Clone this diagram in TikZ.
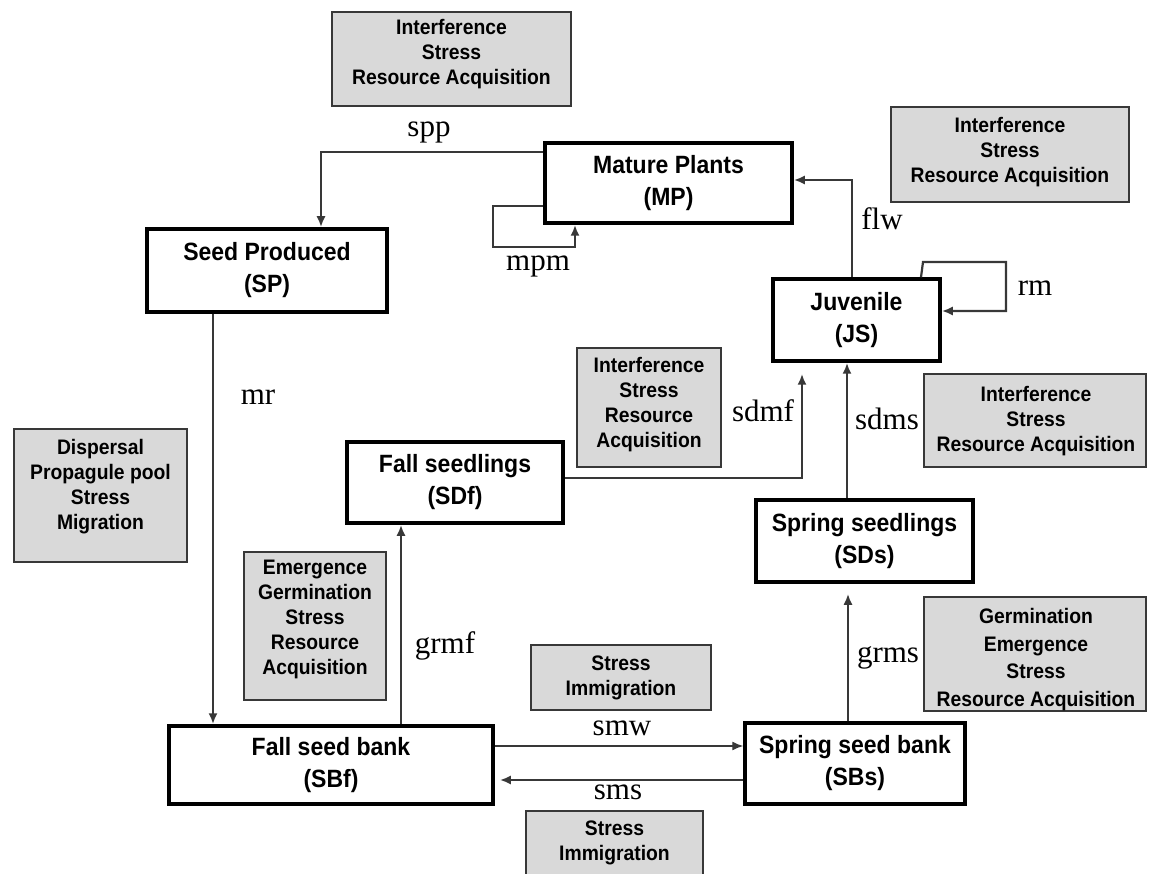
\documentclass[tikz,border=0pt]{standalone}
\usepackage{fontspec}
\setmainfont{Liberation Serif}
\newfontfamily\boxfont[FakeStretch=0.92]{Liberation Sans}
\usetikzlibrary{arrows.meta}
\definecolor{boxgray}{RGB}{217,217,217}
\definecolor{linegray}{RGB}{56,56,56}
\begin{document}
\begin{tikzpicture}[x=1pt,y=-1pt,
 stage/.style={draw=black,line width=3.5pt,fill=white,inner sep=0pt,align=center,font=\boxfont\bfseries\fontsize{25}{32}\selectfont},
 graybox/.style={draw=linegray,line width=2.5pt,fill=boxgray,inner sep=0pt},
 graytext/.style={inner sep=0pt,align=center,font=\boxfont\bfseries\fontsize{21}{25}\selectfont},
 lbl/.style={inner sep=0pt,anchor=base,font=\fontsize{31}{31}\selectfont},
 arr/.style={draw=linegray,line width=2.2pt,-{Latex[length=11pt,width=9pt]}},
 thinarr/.style={arr,line width=1.3pt},
]
\useasboundingbox (0,0) rectangle (1149,874);

% gray factor boxes
\node[graybox,minimum width=239pt,minimum height=94pt] (g1) at (451.5,59) {};
\node[graytext] (g1t) at (451.5,54.3) {Interference\\Stress\\Resource Acquisition};
\node[graybox,minimum width=238pt,minimum height=95pt] (g2) at (1010,154.5) {};
\node[graytext] (g2t) at (1010,152) {Interference\\Stress\\Resource Acquisition};
\node[graybox,minimum width=173pt,minimum height=133pt] (g3) at (100.5,495.5) {};
\node[graytext] (g3t) at (100.5,486.5) {Dispersal\\Propagule pool\\Stress\\Migration};
\node[graybox,minimum width=144pt,minimum height=119pt] (g4) at (649,407.5) {};
\node[graytext] (g4t) at (649,404.5) {Interference\\Stress\\Resource\\Acquisition};
\node[graybox,minimum width=222pt,minimum height=93pt] (g5) at (1035,420.5) {};
\node[graytext] (g5t) at (1036,420.7) {Interference\\Stress\\Resource Acquisition};
\node[graybox,minimum width=222pt,minimum height=114pt] (g6) at (1035,654) {};
\node[graytext,font=\boxfont\bfseries\fontsize{21}{27.5}\selectfont] (g6t) at (1036,659.5) {Germination\\Emergence\\Stress\\Resource Acquisition};
\node[graybox,minimum width=180pt,minimum height=65pt] (g7) at (621,677.5) {};
\node[graytext] (g7t) at (621,677.5) {Stress\\Immigration};
\node[graybox,minimum width=177pt,minimum height=79pt] (g8) at (614.5,850.5) {};
\node[graytext] (g8t) at (614.5,843) {Stress\\Immigration};
\node[graybox,minimum width=142pt,minimum height=148pt] (g9) at (315,626) {};
\node[graytext] (g9t) at (315,619.4) {Emergence\\Germination\\Stress\\Resource\\Acquisition};

% stage boxes
\node[stage,minimum width=247pt,minimum height=80pt] (mp) at (668.5,183) {Mature Plants\\(MP)};
\node[stage,minimum width=240pt,minimum height=83pt] (sp) at (267,270.5) {Seed Produced\\(SP)};
\node[stage,minimum width=167pt,minimum height=82pt] (js) at (856.5,320) {Juvenile\\(JS)};
\node[stage,minimum width=216pt,minimum height=81pt] (sdf) at (455,482.5) {Fall seedlings\\(SDf)};
\node[stage,minimum width=217pt,minimum height=82pt] (sds) at (864.5,541) {Spring seedlings\\(SDs)};
\node[stage,minimum width=324pt,minimum height=78pt] (sbf) at (331,765) {Fall seed bank\\(SBf)};
\node[stage,minimum width=220pt,minimum height=81pt] (sbs) at (855,763.5) {Spring seed bank\\(SBs)};

% connectors
\draw[arr] (mp.west |- 0,152) -| (sp.north -| 321,0);
\draw[arr] (mp.west |- 0,206) -- (493,206) -- (493,247) -- (575,247) -- (mp.south -| 575,0);
\draw[arr] (js.north -| 852,0) |- (mp.east |- 0,180);
\draw[arr] (js.north -| 921,0) -- (923,262) -- (1006,262) -- (1006,311) -- (js.east |- 0,311);
\draw[arr] (sp.south -| 213,0) -- (sbf.north -| 213,0);
\draw[arr,shorten >=11pt] (sdf.east |- 0,478) -| (js.south -| 802,0);
\draw[arr] (sds.north -| 847,0) -- (js.south -| 847,0);
\draw[arr] (sbf.north -| 401,0) -- (sdf.south -| 401,0);
\draw[arr,shorten >=10pt] (sbs.north -| 848,0) -- (sds.south -| 848,0);
\draw[thinarr] (sbf.east |- 0,746) -- (sbs.west |- 0,746);
\draw[arr,shorten >=5pt] (sbs.west |- 0,780) -- (sbf.east |- 0,780);

% labels
\node[lbl] (lspp) at (429,137) {spp};
\node[lbl] (lmpm) at (538,271) {mpm};
\node[lbl] (lflw) at (882,230) {flw};
\node[lbl] (lrm) at (1035,296) {rm};
\node[lbl] (lmr) at (258,405) {mr};
\node[lbl] (lsdmf) at (763,422) {sdmf};
\node[lbl] (lsdms) at (887,430) {sdms};
\node[lbl] (lgrmf) at (445,653) {grmf};
\node[lbl] (lgrms) at (888,662) {grms};
\node[lbl] (lsmw) at (622,735) {smw};
\node[lbl] (lsms) at (618,799) {sms};
\end{tikzpicture}
\end{document}
